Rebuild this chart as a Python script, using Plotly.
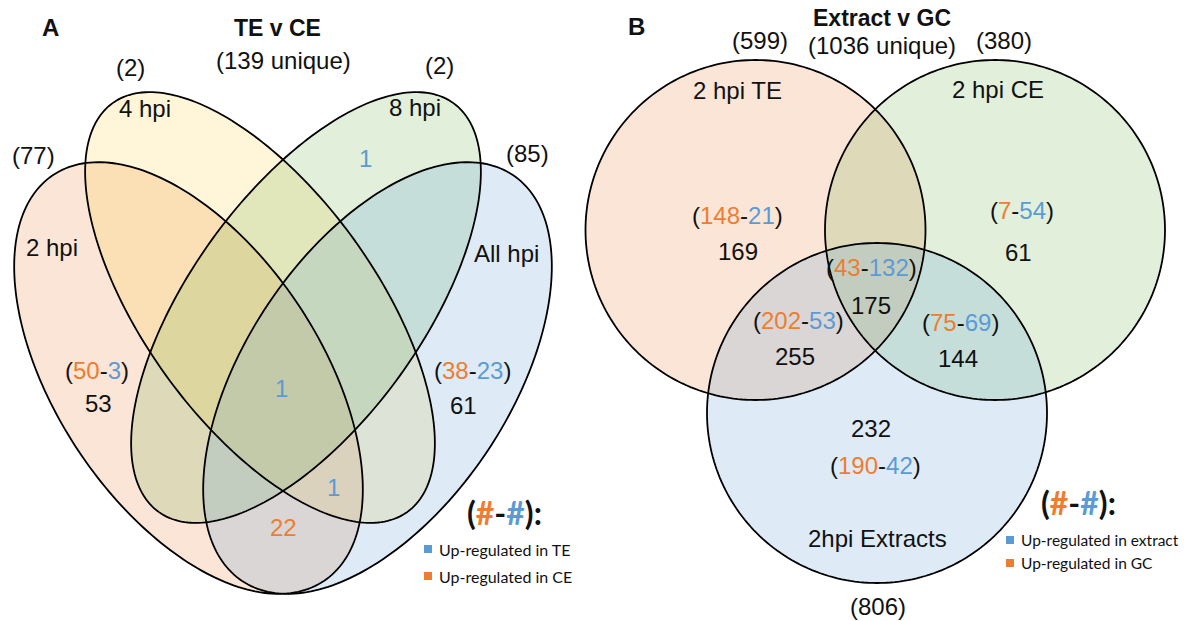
import numpy as np
import plotly.graph_objects as go

ORANGE = "#ED7D31"
BLUE = "#5B9BD5"
INK = "#111111"

# ---------------- Panel A: TE v CE over time points ----------------
a_title = "TE v CE"
a_unique = 139
a_sets = ["2 hpi", "4 hpi", "8 hpi", "All hpi"]
a_totals = [77, 2, 2, 85]
a_colors = [(237, 125, 49), (255, 192, 0), (112, 173, 71), (91, 155, 213)]
a_alpha = [0.2, 0.15, 0.2, 0.2]
# regions of the four-set diagram: genes up in CE (orange) and up in TE (blue)
a_regions = ["2 hpi only", "All hpi only", "8 hpi only", "all four", "2+4+All hpi", "2+All hpi"]
a_up_ce = [50, 38, 0, 0, 0, 22]
a_up_te = [3, 23, 1, 1, 1, 0]
a_legend = ["Up-regulated in TE", "Up-regulated in CE"]

# ---------------- Panel B: Extract v GC at 2 hpi ----------------
b_title = "Extract v GC"
b_unique = 1036
b_sets = ["2 hpi TE", "2 hpi CE", "2hpi Extracts"]
b_totals = [599, 380, 806]
b_colors = [(237, 125, 49), (112, 173, 71), (91, 155, 213)]
b_alpha = [0.2, 0.2, 0.2]
b_regions = ["TE only", "CE only", "TE+CE+Extract", "TE+Extract", "CE+Extract", "Extract only"]
b_up_gc = [148, 7, 43, 202, 75, 190]
b_up_ext = [21, 54, 132, 53, 69, 42]
b_legend = ["Up-regulated in extract", "Up-regulated in GC"]

# ---------------- layout geometry (pixel space, y downwards) ----------------
AXIS_A = 283  # mirror line of the four ellipses
# (cx, cy, semi-major, semi-minor, tilt in degrees, clockwise from +x)
a_ellipses = [
    (188.5, 378, 244, 132, 56.3),
    (260, 307.5, 252, 116, 54.2),
    (2 * AXIS_A - 260, 307.5, 252, 116, 180 - 54.2),
    (2 * AXIS_A - 188.5, 378, 244, 132, 180 - 56.3),
]
a_set_label_xy = [(52, 247), (145, 108), (415, 107), (506, 253)]
a_total_xy = [(33, 155), (130, 67), (439, 65), (527, 153)]
# per region: (x, y) of the split label and of the total, None if single value
a_region_xy = [
    ((97, 370), (98, 403)),
    ((472, 370), (463, 405)),
    ((365, 158), None),
    ((281, 388), None),
    ((333, 487), None),
    ((283, 527), None),
]

b_circles = [(755.5, 230, 170), (995, 230, 170), (877, 413, 170)]
b_set_label_xy = [(737, 90), (998, 89), (877, 538)]
b_total_xy = [(760, 40), (1004, 40), (878, 606)]
# (split label xy, total xy)
b_region_xy = [
    ((737, 215), (738, 251)),
    ((1022, 210), (1018, 252)),
    ((871, 267), (871, 305)),
    ((798, 320), (795, 356)),
    ((960, 322), (958, 358)),
    ((875, 465), (871, 428)),
]

FONT = "Liberation Sans, Arial, sans-serif"
LEGEND_FONT = "Lato, Open Sans, sans-serif"
FS = 24


def ellipse_path(cx, cy, a, b, deg, n=240):
    t = np.linspace(0, 2 * np.pi, n, endpoint=False)
    th = np.radians(deg)
    x = cx + a * np.cos(t) * np.cos(th) - b * np.sin(t) * np.sin(th)
    y = cy + a * np.cos(t) * np.sin(th) + b * np.sin(t) * np.cos(th)
    pts = " L ".join(f"{xi:.2f},{yi:.2f}" for xi, yi in zip(x, y))
    return f"M {pts} Z"


def rgba(c, a):
    return f"rgba({c[0]},{c[1]},{c[2]},{a})"


def split_text(first, second):
    return (f"(<span style='color:{ORANGE}'>{first}</span>-"
            f"<span style='color:{BLUE}'>{second}</span>)")


shapes = []
annotations = []


def add_text(x, y, text, size=FS, color=INK, bold=False, family=FONT, xanchor="center"):
    if bold:
        text = f"<b>{text}</b>"
    annotations.append(dict(
        x=x, y=y, xref="x", yref="y", text=text, showarrow=False,
        xanchor=xanchor, yanchor="middle",
        font=dict(family=family, size=size, color=color),
    ))


# fills first, outlines on top
a_paths = [ellipse_path(*e) for e in a_ellipses]
b_paths = [ellipse_path(cx, cy, r, r, 0) for cx, cy, r in b_circles]
for p, c, al in list(zip(a_paths, a_colors, a_alpha)) + list(zip(b_paths, b_colors, b_alpha)):
    shapes.append(dict(type="path", path=p, xref="x", yref="y",
                       fillcolor=rgba(c, al), line=dict(width=0), layer="above"))
for p in a_paths + b_paths:
    shapes.append(dict(type="path", path=p, xref="x", yref="y",
                       fillcolor="rgba(0,0,0,0)", line=dict(color="black", width=1.8),
                       layer="above"))

# region numbers
for (split_xy, total_xy), ce, te in zip(a_region_xy, a_up_ce, a_up_te):
    if ce and te:
        add_text(*split_xy, split_text(ce, te))
        add_text(*total_xy, str(ce + te))
    else:
        add_text(*split_xy, str(ce or te), color=ORANGE if ce else BLUE)

for (split_xy, total_xy), gc, ext in zip(b_region_xy, b_up_gc, b_up_ext):
    add_text(*split_xy, split_text(gc, ext))
    add_text(*total_xy, str(gc + ext))

# set names and set totals
for name, xy in zip(a_sets, a_set_label_xy):
    add_text(*xy, name)
for tot, xy in zip(a_totals, a_total_xy):
    add_text(*xy, f"({tot})")
for name, xy in zip(b_sets, b_set_label_xy):
    add_text(*xy, name)
for tot, xy in zip(b_totals, b_total_xy):
    add_text(*xy, f"({tot})")

# titles
add_text(50, 27, "A", bold=True)
add_text(277, 28, a_title, size=23, bold=True)
add_text(283, 60, f"({a_unique} unique)")
add_text(636, 26, "B", bold=True)
add_text(882, 18, b_title, size=23, bold=True)
add_text(882, 45, f"({b_unique} unique)")

# keys
key_sym = (f"(<span style='color:{ORANGE}'>#</span>-"
           f"<span style='color:{BLUE}'>#</span>):")
for (kx, ky), (sx, sy0, dy), labels, fs in [
    ((504, 512), (428, 549, 27), a_legend, 16),
    ((1078, 502), (1010, 540, 23), b_legend, 15.5),
]:
    add_text(kx, ky, key_sym, size=32, bold=True, family=LEGEND_FONT)
    for i, (lab, col) in enumerate(zip(labels, [BLUE, ORANGE])):
        y = sy0 + i * dy
        shapes.append(dict(type="rect", xref="x", yref="y",
                           x0=sx - 4, x1=sx + 4, y0=y - 4, y1=y + 4,
                           fillcolor=col, line=dict(width=0)))
        add_text(sx + 9, y, lab, size=fs, family=LEGEND_FONT, xanchor="left")

fig = go.Figure()
fig.update_layout(
    width=1187, height=621,
    margin=dict(l=0, r=0, t=0, b=0),
    paper_bgcolor="white", plot_bgcolor="white",
    xaxis=dict(range=[0, 1187], visible=False, fixedrange=True),
    yaxis=dict(range=[621, 0], visible=False, fixedrange=True),
    shapes=shapes, annotations=annotations, showlegend=False,
)
fig.write_html("out.html")
